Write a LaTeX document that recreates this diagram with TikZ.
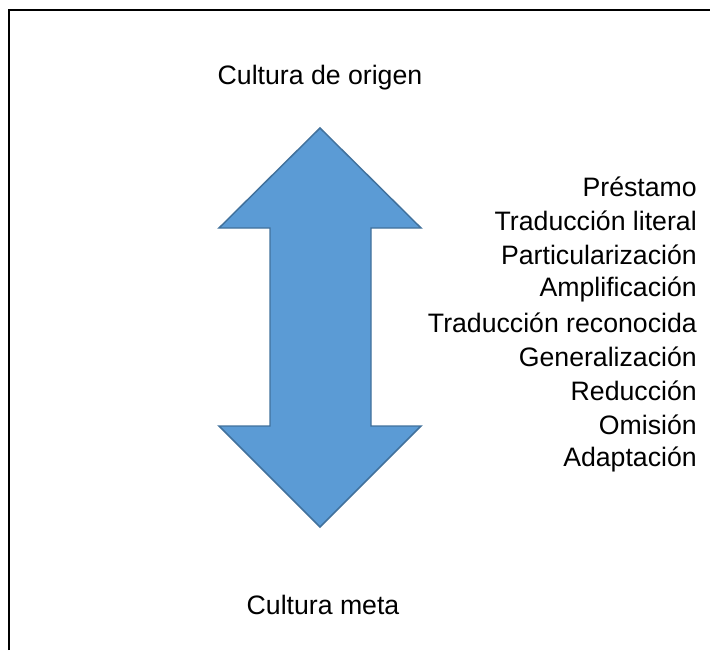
\documentclass[tikz,border=0pt]{standalone}
\usepackage{fontspec}
\setmainfont{Liberation Sans}
\usepackage{tikz}
\definecolor{flecha}{HTML}{5B9BD5}
\definecolor{borde}{HTML}{41719C}

\begin{document}
\begin{tikzpicture}[x=0.75pt,y=-0.75pt,
	etiqueta/.style={font=\fontsize{20}{24}\selectfont, inner sep=0pt},
	tecnica/.style={etiqueta, anchor=east}]
			\useasboundingbox (0,0) rectangle (710,650);
			\draw[line width=2pt](9,650)--(9,10)--(710,10);
			\draw[fill=flecha, draw=borde, line width=1.1pt, line join=miter]
				(320,128)--(421,228)--(371,228)--(371,426)--(421,426)--(320,527)
				--(219,426)--(270,426)--(270,228)--(219,228)--cycle;
			\node[etiqueta] (origen) at (320,78) {Cultura de origen};
			\node[etiqueta] (meta) at (323,605) {Cultura meta};
			\node[tecnica] (prestamo) at (697,187) {Préstamo};
			\node[tecnica] (literal) at (697,221) {Traducción literal};
			\node[tecnica] (particular) at (697,255) {Particularización};
			\node[tecnica] (amplif) at (697,289) {Amplificación};
			\node[tecnica] (reconocida) at (697,323) {Traducción reconocida};
			\node[tecnica] (general) at (697,357) {Generalización};
			\node[tecnica] (reduccion) at (697,391) {Reducción};
			\node[tecnica] (omision) at (697,425) {Omisión};
			\node[tecnica] (adaptacion) at (697,459) {Adaptación};
		\end{tikzpicture}
\end{document}
